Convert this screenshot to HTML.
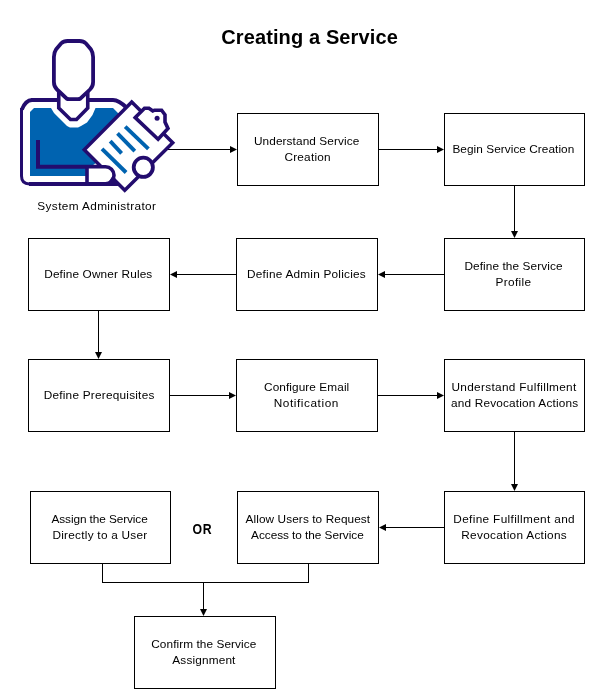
<!DOCTYPE html>
<html>
<head>
<meta charset="utf-8">
<style>
html,body{margin:0;padding:0;background:#fff;}
body{width:605px;height:699px;overflow:hidden;position:relative;}
svg{position:absolute;left:0;top:0;will-change:transform;}
text{font-family:"Liberation Sans",sans-serif;font-size:11.8px;fill:#000;}
.t{font-weight:bold;font-size:20px;}
</style>
</head>
<body>
<svg width="605" height="699" viewBox="0 0 605 699">
  <!-- title -->
  <text class="t" x="309.50" y="44" text-anchor="middle" textLength="176.65" lengthAdjust="spacing">Creating a Service</text>

  <!-- boxes -->
  <g fill="#fff" stroke="#000" stroke-width="1" shape-rendering="crispEdges">
    <rect x="237.5" y="113.5" width="141" height="72"/>
    <rect x="444.5" y="113.5" width="140" height="72"/>
    <rect x="444.5" y="238.5" width="140" height="72"/>
    <rect x="236.5" y="238.5" width="141" height="72"/>
    <rect x="28.5" y="238.5" width="141" height="72"/>
    <rect x="28.5" y="359.5" width="141" height="72"/>
    <rect x="236.5" y="359.5" width="141" height="72"/>
    <rect x="444.5" y="359.5" width="140" height="72"/>
    <rect x="444.5" y="491.5" width="140" height="72"/>
    <rect x="237.5" y="491.5" width="141" height="72"/>
    <rect x="30.5" y="491.5" width="140" height="72"/>
    <rect x="134.5" y="616.5" width="141" height="72"/>
  </g>

  <!-- connectors -->
  <g stroke="#000" stroke-width="1" fill="none" shape-rendering="crispEdges">
    <path d="M166 149.5H231"/>
    <path d="M378 149.5H438"/>
    <path d="M514.5 185V232"/>
    <path d="M444 274.5H383"/>
    <path d="M236 274.5H175"/>
    <path d="M98.5 310V353"/>
    <path d="M169 395.5H230"/>
    <path d="M377 395.5H438"/>
    <path d="M514.5 431V485"/>
    <path d="M444 527.5H384"/>
    <path d="M102.5 563V582.5H308.5V563"/>
    <path d="M203.5 582V610"/>
  </g>
  <g fill="#000">
    <polygon points="230,146 237,149.5 230,153"/>
    <polygon points="437,146 444,149.5 437,153"/>
    <polygon points="511,231 518,231 514.5,238"/>
    <polygon points="385,271 378,274.5 385,278"/>
    <polygon points="177,271 170,274.5 177,278"/>
    <polygon points="95,352 102,352 98.5,359"/>
    <polygon points="229,392 236,395.5 229,399"/>
    <polygon points="437,392 444,395.5 437,399"/>
    <polygon points="511,484 518,484 514.5,491"/>
    <polygon points="386,524 379,527.5 386,531"/>
    <polygon points="200,609 207,609 203.5,616"/>
  </g>

  <!-- box texts -->
  <g text-anchor="middle">
    <text x="306.65" y="145" textLength="105.41" lengthAdjust="spacing">Understand Service</text>
    <text x="307.50" y="160.5" textLength="46.19" lengthAdjust="spacing">Creation</text>
    <text x="513.35" y="153" textLength="121.81" lengthAdjust="spacing">Begin Service Creation</text>
    <text x="513.45" y="270" textLength="97.99" lengthAdjust="spacing">Define the Service</text>
    <text x="513.30" y="286" textLength="35.55" lengthAdjust="spacing">Profile</text>
    <text x="306.40" y="278" textLength="118.71" lengthAdjust="spacing">Define Admin Policies</text>
    <text x="98.25" y="278" textLength="108.00" lengthAdjust="spacing">Define Owner Rules</text>
    <text x="99.00" y="399" textLength="110.66" lengthAdjust="spacing">Define Prerequisites</text>
    <text x="306.65" y="391" textLength="85.12" lengthAdjust="spacing">Configure Email</text>
    <text x="306.05" y="407" textLength="64.58" lengthAdjust="spacing">Notification</text>
    <text x="513.85" y="391" textLength="124.84" lengthAdjust="spacing">Understand Fulfillment</text>
    <text x="514.60" y="407" textLength="127.07" lengthAdjust="spacing">and Revocation Actions</text>
    <text x="513.95" y="523" textLength="121.32" lengthAdjust="spacing">Define Fulfillment and</text>
    <text x="514.00" y="539" textLength="105.43" lengthAdjust="spacing">Revocation Actions</text>
    <text x="307.85" y="523" textLength="124.60" lengthAdjust="spacing">Allow Users to Request</text>
    <text x="307.40" y="539" textLength="112.60" lengthAdjust="spacing">Access to the Service</text>
    <text x="99.60" y="523" textLength="96.22" lengthAdjust="spacing">Assign the Service</text>
    <text x="99.85" y="539" textLength="94.81" lengthAdjust="spacing">Directly to a User</text>
    <text x="203.80" y="648" textLength="105.07" lengthAdjust="spacing">Confirm the Service</text>
    <text x="203.85" y="664" textLength="63.09" lengthAdjust="spacing">Assignment</text>
    <text x="96.65" y="210" textLength="118.66" lengthAdjust="spacing">System Administrator</text>
  </g>
  <g transform="translate(192.6,534.3) scale(0.86,1)"><text x="0" y="0" style="font-weight:bold;font-size:14.3px">O</text><text x="11.9" y="0" style="font-weight:bold;font-size:14.3px">R</text></g>

  <!-- icon -->
  <g stroke-linejoin="miter">
    <!-- blue body fill -->
    <polygon fill="#0063b0" points="30,112 34,108 51,108 54,113 59,118 67,126 70,127.5 78,127.5 81,126 87,122.5 92.5,115 95.5,108 113,108 125,120 100,160 89,168 89,176 30,176"/>
    <!-- body outline -->
    <path fill="none" stroke="#230c6e" stroke-width="3" d="M21.5 108 V176 Q21.5 183.9 29.5 183.9"/>
    <path fill="none" stroke="#230c6e" stroke-width="3.8" d="M32 100 Q25.5 100.3 21.9 109.5"/>
    <path fill="none" stroke="#230c6e" stroke-width="4" d="M31 100 H58.75 M29 183.9 H108"/>
    <path fill="none" stroke="#230c6e" stroke-width="4" d="M87.75 99.9 L113 99.9 Q119 99.9 127 108"/>
    <!-- L arm -->
    <path fill="none" stroke="#230c6e" stroke-width="4" d="M38 140 V166.75 H100"/>
    <!-- neck -->
    <path fill="none" stroke="#230c6e" stroke-width="3.6" d="M58.75 92 L58.75 108 L70.5 119.5 L76.5 119.5 L87.75 108 L87.75 92"/>
    <!-- head -->
    <path fill="#fff" stroke="#230c6e" stroke-width="3.8" d="M53.9 82 V57 Q54.2 52 56.2 49.2 L61 43.5 Q63.5 41 67.5 41 H79.5 Q83.5 41 86 43.5 L90.8 49.2 Q92.8 52 93.1 57 V82 Q93.1 86.5 90 89.5 L80.5 98.5 Q79.5 99.1 78 99.1 H69 Q67.5 99.1 66.5 98.5 L57 89.5 Q53.9 86.5 53.9 82 Z"/>
    <!-- clipboard -->
    <polygon fill="#fff" stroke="#230c6e" stroke-width="3.5" points="131.75,102 172.75,142.75 124.75,190.25 84.25,149.75"/>
    <!-- text lines -->
    <g stroke="#0063b0" stroke-width="3.9" stroke-linecap="butt">
      <path d="M102 148.8 L126.1 172.5"/>
      <path d="M110.2 141.1 L121.6 153.4"/>
      <path d="M117.5 133.4 L134.8 151.1"/>
      <path d="M125.2 126.6 L148.4 148.8"/>
    </g>
    <!-- clip -->
    <path fill="#fff" stroke="#230c6e" stroke-width="3.6" d="M135.25 117.6 L144.5 108.2 L149 108.2 L152.8 111 L154.5 110.2 L161.6 110.2 L165 114.8 L165 122 L168 128.5 L158.1 139.2 Z"/>
    <circle cx="157.1" cy="118.3" r="2.5" fill="#230c6e"/>
    <!-- ring -->
    <circle cx="143.3" cy="167.3" r="9.6" fill="#fff" stroke="#230c6e" stroke-width="3.8"/>
    <!-- hand -->
    <path fill="#fff" stroke="#230c6e" stroke-width="3.6" d="M87 166.75 H105.5 A8.5 8.5 0 0 1 105.5 183.75 H87 Z"/>
    <polygon fill="#230c6e" points="111.5,177.5 113.8,176 119.2,185.9 106,185.9"/>
  </g>
</svg>
</body>
</html>
